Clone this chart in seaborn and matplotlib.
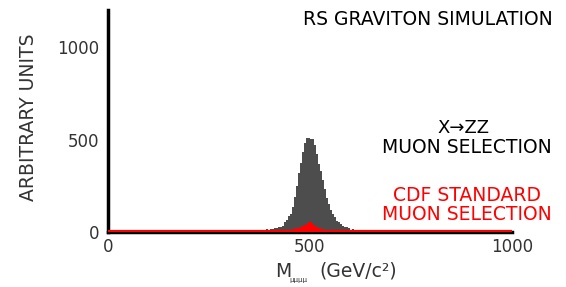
"""
RS graviton simulation: four-muon invariant mass histograms.
"""

import pandas as pd
import matplotlib
matplotlib.use('Agg')
import matplotlib.pyplot as plt
import seaborn as sns

# 5 GeV wide bins from 0 to 1000 GeV/c^2
bin_width = 5
bin_range = (0, 1000)

# X->ZZ muon selection (grey), bin centres and counts
gray_centers = [272.5, 332.5, 347.5, 382.5, 392.5,
                402.5, 407.5, 412.5, 417.5, 422.5, 427.5, 432.5, 437.5, 442.5, 447.5,
                452.5, 457.5, 462.5, 467.5, 472.5, 477.5, 482.5, 487.5, 492.5, 497.5,
                502.5, 507.5, 512.5, 517.5, 522.5, 527.5, 532.5, 537.5, 542.5, 547.5,
                552.5, 557.5, 562.5, 567.5, 572.5, 577.5, 582.5, 587.5, 592.5, 597.5,
                607.5, 617.5, 632.5, 652.5, 697.5, 767.5, 827.5, 922.5]
gray_counts = [5, 6, 8, 10, 14,
               18, 18, 20, 22, 25, 28, 35, 55, 65, 85,
               100, 135, 190, 250, 320, 375, 430, 480, 508, 510,
               505, 505, 470, 420, 370, 330, 280, 230, 185, 150,
               120, 100, 80, 60, 52, 45, 30, 27, 25, 22,
               15, 12, 10, 7, 6, 5, 4, 4]

# CDF standard muon selection (red)
red_centers = [432.5, 442.5, 447.5, 452.5, 457.5, 462.5, 467.5, 472.5, 477.5,
               482.5, 487.5, 492.5, 497.5, 502.5, 507.5, 512.5, 517.5, 522.5,
               527.5, 532.5, 537.5, 542.5, 547.5, 552.5, 562.5, 572.5, 587.5]
red_counts = [5, 8, 10, 12, 14, 17, 20, 24, 28,
              33, 38, 45, 55, 52, 42, 32, 26, 21,
              17, 14, 11, 9, 7, 6, 5, 4, 3]

y_ticks = [0, 500, 1000]
x_ticks = [0, 500, 1000]

gray_df = pd.DataFrame({'mass': gray_centers, 'count': gray_counts})
red_df = pd.DataFrame({'mass': red_centers, 'count': red_counts})

sns.set_style('white')
plt.rcParams['font.family'] = ['DejaVu Sans']

fig = plt.figure(figsize=(5.66, 2.87), dpi=100)
ax = fig.add_axes([0.1908, 0.1916, 0.7138, 0.7735])

sns.histplot(data=gray_df, x='mass', weights='count', binwidth=bin_width,
             binrange=bin_range, element='step', fill=True, color='#4d4d4d',
             alpha=1.0, linewidth=0, ax=ax)
sns.histplot(data=red_df, x='mass', weights='count', binwidth=bin_width,
             binrange=bin_range, element='step', fill=True, color='#ff0000',
             alpha=1.0, linewidth=0, ax=ax)
ax.axhline(0, color='#ff0000', lw=3, zorder=5)

ax.set_xlim(bin_range)
ax.set_ylim(0, 1200)
ax.set_xticks(x_ticks)
ax.set_yticks(y_ticks)
ax.tick_params(axis='y', direction='in', length=10, width=2.5, color='black',
               labelsize=12, labelcolor='#333333', pad=6)
ax.tick_params(axis='x', direction='in', length=6, width=2.5, color='black',
               labelsize=12, labelcolor='#333333', pad=4)
ax.set_xlabel('')
ax.set_ylabel('')

for side in ['top', 'right']:
    ax.spines[side].set_visible(False)
ax.spines['left'].set_linewidth(2.5)
ax.spines['left'].set_color('black')
ax.spines['bottom'].set_linewidth(2.5)
ax.spines['bottom'].set_color('black')

# axis titles
fig.text(0.05, 0.59, 'ARBITRARY UNITS', rotation=90, ha='center', va='center',
         fontsize=13.5, color='#333333')
fig.text(0.486, 0.035, 'M', ha='left', va='baseline', fontsize=13.5, color='#333333')
fig.text(0.512, 0.017, 'μμμμ', ha='left', va='baseline', fontsize=5, color='#333333')
fig.text(0.565, 0.035, '(GeV/c²)', ha='left', va='baseline', fontsize=13.5, color='#333333')

# annotations
fig.text(0.977, 0.913, 'RS GRAVITON SIMULATION', ha='right', va='baseline',
         fontsize=13.5, color='black')
fig.text(0.818, 0.535, 'X→ZZ', ha='center', va='baseline', fontsize=13, color='black')
fig.text(0.825, 0.467, 'MUON SELECTION', ha='center', va='baseline', fontsize=13.5,
         color='black')
fig.text(0.825, 0.300, 'CDF STANDARD', ha='center', va='baseline', fontsize=13.5,
         color='#ff0000')
fig.text(0.825, 0.233, 'MUON SELECTION', ha='center', va='baseline', fontsize=13.5,
         color='#ff0000')

plt.savefig('out.png', dpi=100)
plt.close()
